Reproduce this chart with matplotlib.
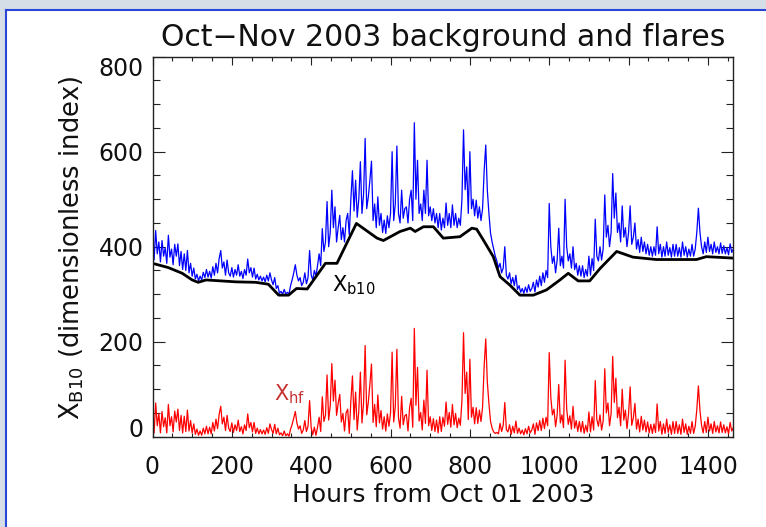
import numpy as np
import matplotlib.pyplot as plt
from matplotlib.patches import Rectangle
from matplotlib.lines import Line2D
from matplotlib.ticker import MultipleLocator

hours = np.arange(0, 1465, 4)

# X_B (blue), total index
xb = [
    400, 372, 434, 385, 410, 368, 413, 380, 398, 365, 424, 378, 395, 362, 405,
    380, 406, 360, 390, 352, 385, 350, 392, 345, 365, 338, 355, 332, 342, 328,
    338, 330, 346, 335, 352, 336, 348, 334, 358, 340, 365, 345, 375, 392, 355,
    368, 340, 372, 345, 338, 356, 336, 352, 340, 362, 338, 348, 333, 352, 340,
    374, 345, 356, 336, 355, 332, 342, 330, 338, 328, 336, 326, 340, 328, 345,
    330, 320, 335, 312, 318, 302, 306, 300, 310, 300, 304, 300, 318, 330, 345,
    362, 340, 328, 335, 318, 325, 345, 322, 335, 392, 340, 330, 350, 338, 360,
    385, 360, 438, 390, 410, 495, 400, 430, 519, 440, 484, 410, 440, 466, 415,
    440, 410, 455, 470, 425, 500, 560, 475, 540, 462, 500, 579, 470, 510, 628,
    480, 505, 540, 580, 455, 490, 440, 505, 445, 470, 430, 456, 428, 465, 440,
    470, 600, 455, 490, 612, 470, 450, 519, 460, 480, 484, 450, 500, 519, 455,
    661, 500, 582, 470, 490, 455, 519, 470, 582, 465, 484, 455, 480, 450, 470,
    440, 470, 435, 460, 440, 492, 445, 470, 440, 488, 445, 470, 440, 460, 445,
    500, 646, 520, 568, 470, 600, 480, 500, 465, 498, 460, 484, 455, 480, 560,
    614, 519, 470, 429, 410, 395, 380, 370, 355, 365, 345, 355, 400, 340, 332,
    345, 322, 335, 318, 340, 310, 318, 304, 312, 302, 315, 304, 320, 306, 312,
    325, 305, 330, 315, 338, 318, 345, 325, 350, 335, 491, 400, 365, 380, 345,
    372, 439, 360, 380, 355, 500, 400, 370, 385, 355, 400, 352, 365, 340, 360,
    338, 360, 335, 352, 338, 380, 340, 375, 350, 458, 380, 370, 400, 372, 395,
    509, 420, 445, 400, 430, 554, 460, 513, 430, 450, 410, 486, 420, 440, 400,
    430, 486, 405, 420, 450, 395, 415, 388, 420, 390, 410, 385, 405, 382, 400,
    380, 400, 382, 442, 385, 405, 378, 400, 380, 410, 382, 398, 378, 405, 380,
    405, 380, 398, 378, 410, 382, 400, 378, 395, 380, 405, 380, 395, 430, 481,
    430, 400, 385, 410, 388, 420, 390, 405, 385, 410, 388, 400, 385, 408, 386,
    402, 385, 398, 383, 406, 388, 395,
]

# X_hf (red), flare part
xhf = [
    35, 8, 71, 23, 49, 8, 53, 21, 40, 8, 68, 23, 42, 10, 54,
    31, 58, 13, 45, 8, 43, 11, 56, 12, 34, 8, 27, 5, 16, 3,
    12, 3, 18, 6, 22, 6, 20, 6, 30, 12, 37, 17, 47, 64, 27,
    41, 13, 45, 18, 11, 29, 9, 25, 13, 35, 11, 21, 6, 25, 13,
    48, 19, 30, 10, 30, 7, 18, 6, 15, 6, 14, 5, 19, 7, 27,
    15, 7, 26, 6, 18, 4, 8, 2, 12, 2, 6, 1, 16, 26, 39,
    53, 29, 16, 23, 7, 14, 34, 11, 22, 76, 19, 4, 20, 3, 20,
    41, 11, 84, 32, 45, 130, 35, 65, 154, 75, 119, 45, 70, 89, 31,
    49, 12, 50, 58, 7, 75, 128, 36, 94, 14, 54, 136, 29, 71, 192,
    46, 73, 111, 153, 30, 68, 21, 88, 29, 55, 16, 42, 12, 48, 22,
    50, 178, 31, 64, 184, 40, 18, 85, 25, 44, 47, 12, 61, 81, 20,
    228, 66, 146, 33, 51, 14, 77, 28, 140, 23, 42, 13, 38, 11, 35,
    8, 42, 11, 41, 22, 73, 26, 51, 20, 68, 25, 49, 19, 39, 24,
    76, 219, 91, 136, 36, 163, 41, 62, 27, 61, 28, 56, 32, 62, 149,
    206, 115, 70, 33, 18, 10, 7, 9, 6, 28, 11, 24, 72, 15, 10,
    25, 5, 22, 8, 33, 7, 18, 6, 14, 4, 17, 6, 22, 8, 14,
    27, 5, 29, 13, 34, 13, 39, 17, 41, 23, 177, 83, 46, 58, 21,
    46, 110, 29, 46, 19, 161, 59, 26, 44, 16, 64, 18, 34, 11, 32,
    10, 32, 7, 24, 10, 52, 10, 42, 14, 118, 36, 22, 46, 14, 33,
    143, 50, 71, 23, 49, 169, 72, 123, 40, 62, 23, 100, 35, 56, 17,
    48, 105, 24, 40, 70, 16, 37, 10, 43, 14, 35, 10, 31, 8, 26,
    7, 27, 9, 69, 12, 32, 5, 27, 7, 37, 9, 25, 5, 32, 7,
    32, 7, 25, 5, 37, 9, 27, 5, 22, 7, 32, 7, 22, 57, 107,
    55, 24, 8, 32, 9, 41, 12, 27, 7, 32, 10, 23, 8, 31, 9,
    25, 8, 21, 6, 30, 12, 19,
]

# X_b10 background (black)
bg_hours = [0, 40, 75, 100, 115, 135, 210, 260, 292, 318, 343, 363, 390,
            436, 465, 514, 566, 582, 624, 650, 662, 683, 708, 733, 775,
            805, 817, 834, 859, 876, 901, 926, 960, 993, 1027, 1048, 1073,
            1102, 1128, 1170, 1211, 1270, 1371, 1396, 1464]
bg_vals = [365, 356, 344, 330, 325, 330, 326, 325, 321, 298, 298, 312, 311,
           365, 365, 449, 418, 413, 432, 439, 432, 442, 442, 418, 421,
           439, 437, 414, 379, 337, 319, 298, 298, 309, 330, 344, 328,
           328, 354, 390, 378, 373, 373, 379, 376]

W, H = 766, 527
fig = plt.figure(figsize=(W / 100, H / 100), dpi=100)
fig.patch.set_facecolor('white')

# window frame around the plot
frame_gray = '#d5dee6'
frame_blue = '#2846d8'
fig.patches.append(Rectangle((0, 1 - 9 / H), 1, 9 / H, transform=fig.transFigure,
                             color=frame_gray, zorder=0))
fig.patches.append(Rectangle((0, 0), 5 / W, 1, transform=fig.transFigure,
                             color=frame_gray, zorder=0))
fig.lines.append(Line2D([5.5 / W, 5.5 / W], [0, 1 - 9.5 / H], transform=fig.transFigure,
                        color=frame_blue, lw=1.5))
fig.lines.append(Line2D([5.5 / W, 1], [1 - 9.5 / H, 1 - 9.5 / H], transform=fig.transFigure,
                        color=frame_blue, lw=1.5))

left, right, top, bottom = 152.5, 733.3, 56.7, 436.7
ax = fig.add_axes([left / W, 1 - bottom / H, (right - left) / W, (bottom - top) / H])

ax.plot(hours, xb, color='#0000ff', lw=0.9)
ax.plot(hours, xhf, color='#ff0000', lw=0.9)
ax.plot(bg_hours, bg_vals, color='black', lw=2.0)

ax.set_xlim(0, 1464)
ax.set_ylim(0, 800)
ax.xaxis.set_major_locator(MultipleLocator(200))
ax.xaxis.set_minor_locator(MultipleLocator(50))
ax.yaxis.set_major_locator(MultipleLocator(200))
ax.yaxis.set_minor_locator(MultipleLocator(50))

for s in ax.spines.values():
    s.set_linewidth(1.0)
    s.set_color('#222222')

ax.tick_params(axis='both', which='both', direction='in', top=True, right=True,
               width=0.8, color='#222222', labelsize=17, labelcolor='#111111')
ax.tick_params(axis='x', which='major', length=5.8, pad=13.5)
ax.tick_params(axis='x', which='minor', length=3.2)
ax.tick_params(axis='y', which='major', length=8.6, pad=6.5)
ax.tick_params(axis='y', which='minor', length=4.7)

# end labels kept inside the axis range, like the original
fig.canvas.draw()
for t in ax.yaxis.get_major_ticks():
    lab = t.label1.get_text()
    if lab == '800':
        t.label1.set_va('top')
    elif lab == '0':
        t.label1.set_va('baseline')

ax.text(0.5, 1.028, 'Oct\u2212Nov 2003 background and flares', transform=ax.transAxes,
        ha='center', va='baseline', fontsize=21.5, color='#111111')
ax.text(0.5, -0.172, 'Hours from Oct 01 2003', transform=ax.transAxes,
        ha='center', va='baseline', fontsize=18, color='#111111')
fig.text(72 / W, 1 - 248 / H, r'X$_{\rm B10}$ (dimensionless index)', rotation=90,
         ha='center', va='center', fontsize=18.5, color='#111111')

ax.text(453, 305, r'X$_{\rm b10}$', fontsize=15, color='black', ha='left', va='baseline')
ax.text(305, 77, r'X$_{\rm hf}$', fontsize=15, color='#c83232', ha='left', va='baseline')

fig.savefig('out.png', dpi=100, facecolor=fig.get_facecolor())
